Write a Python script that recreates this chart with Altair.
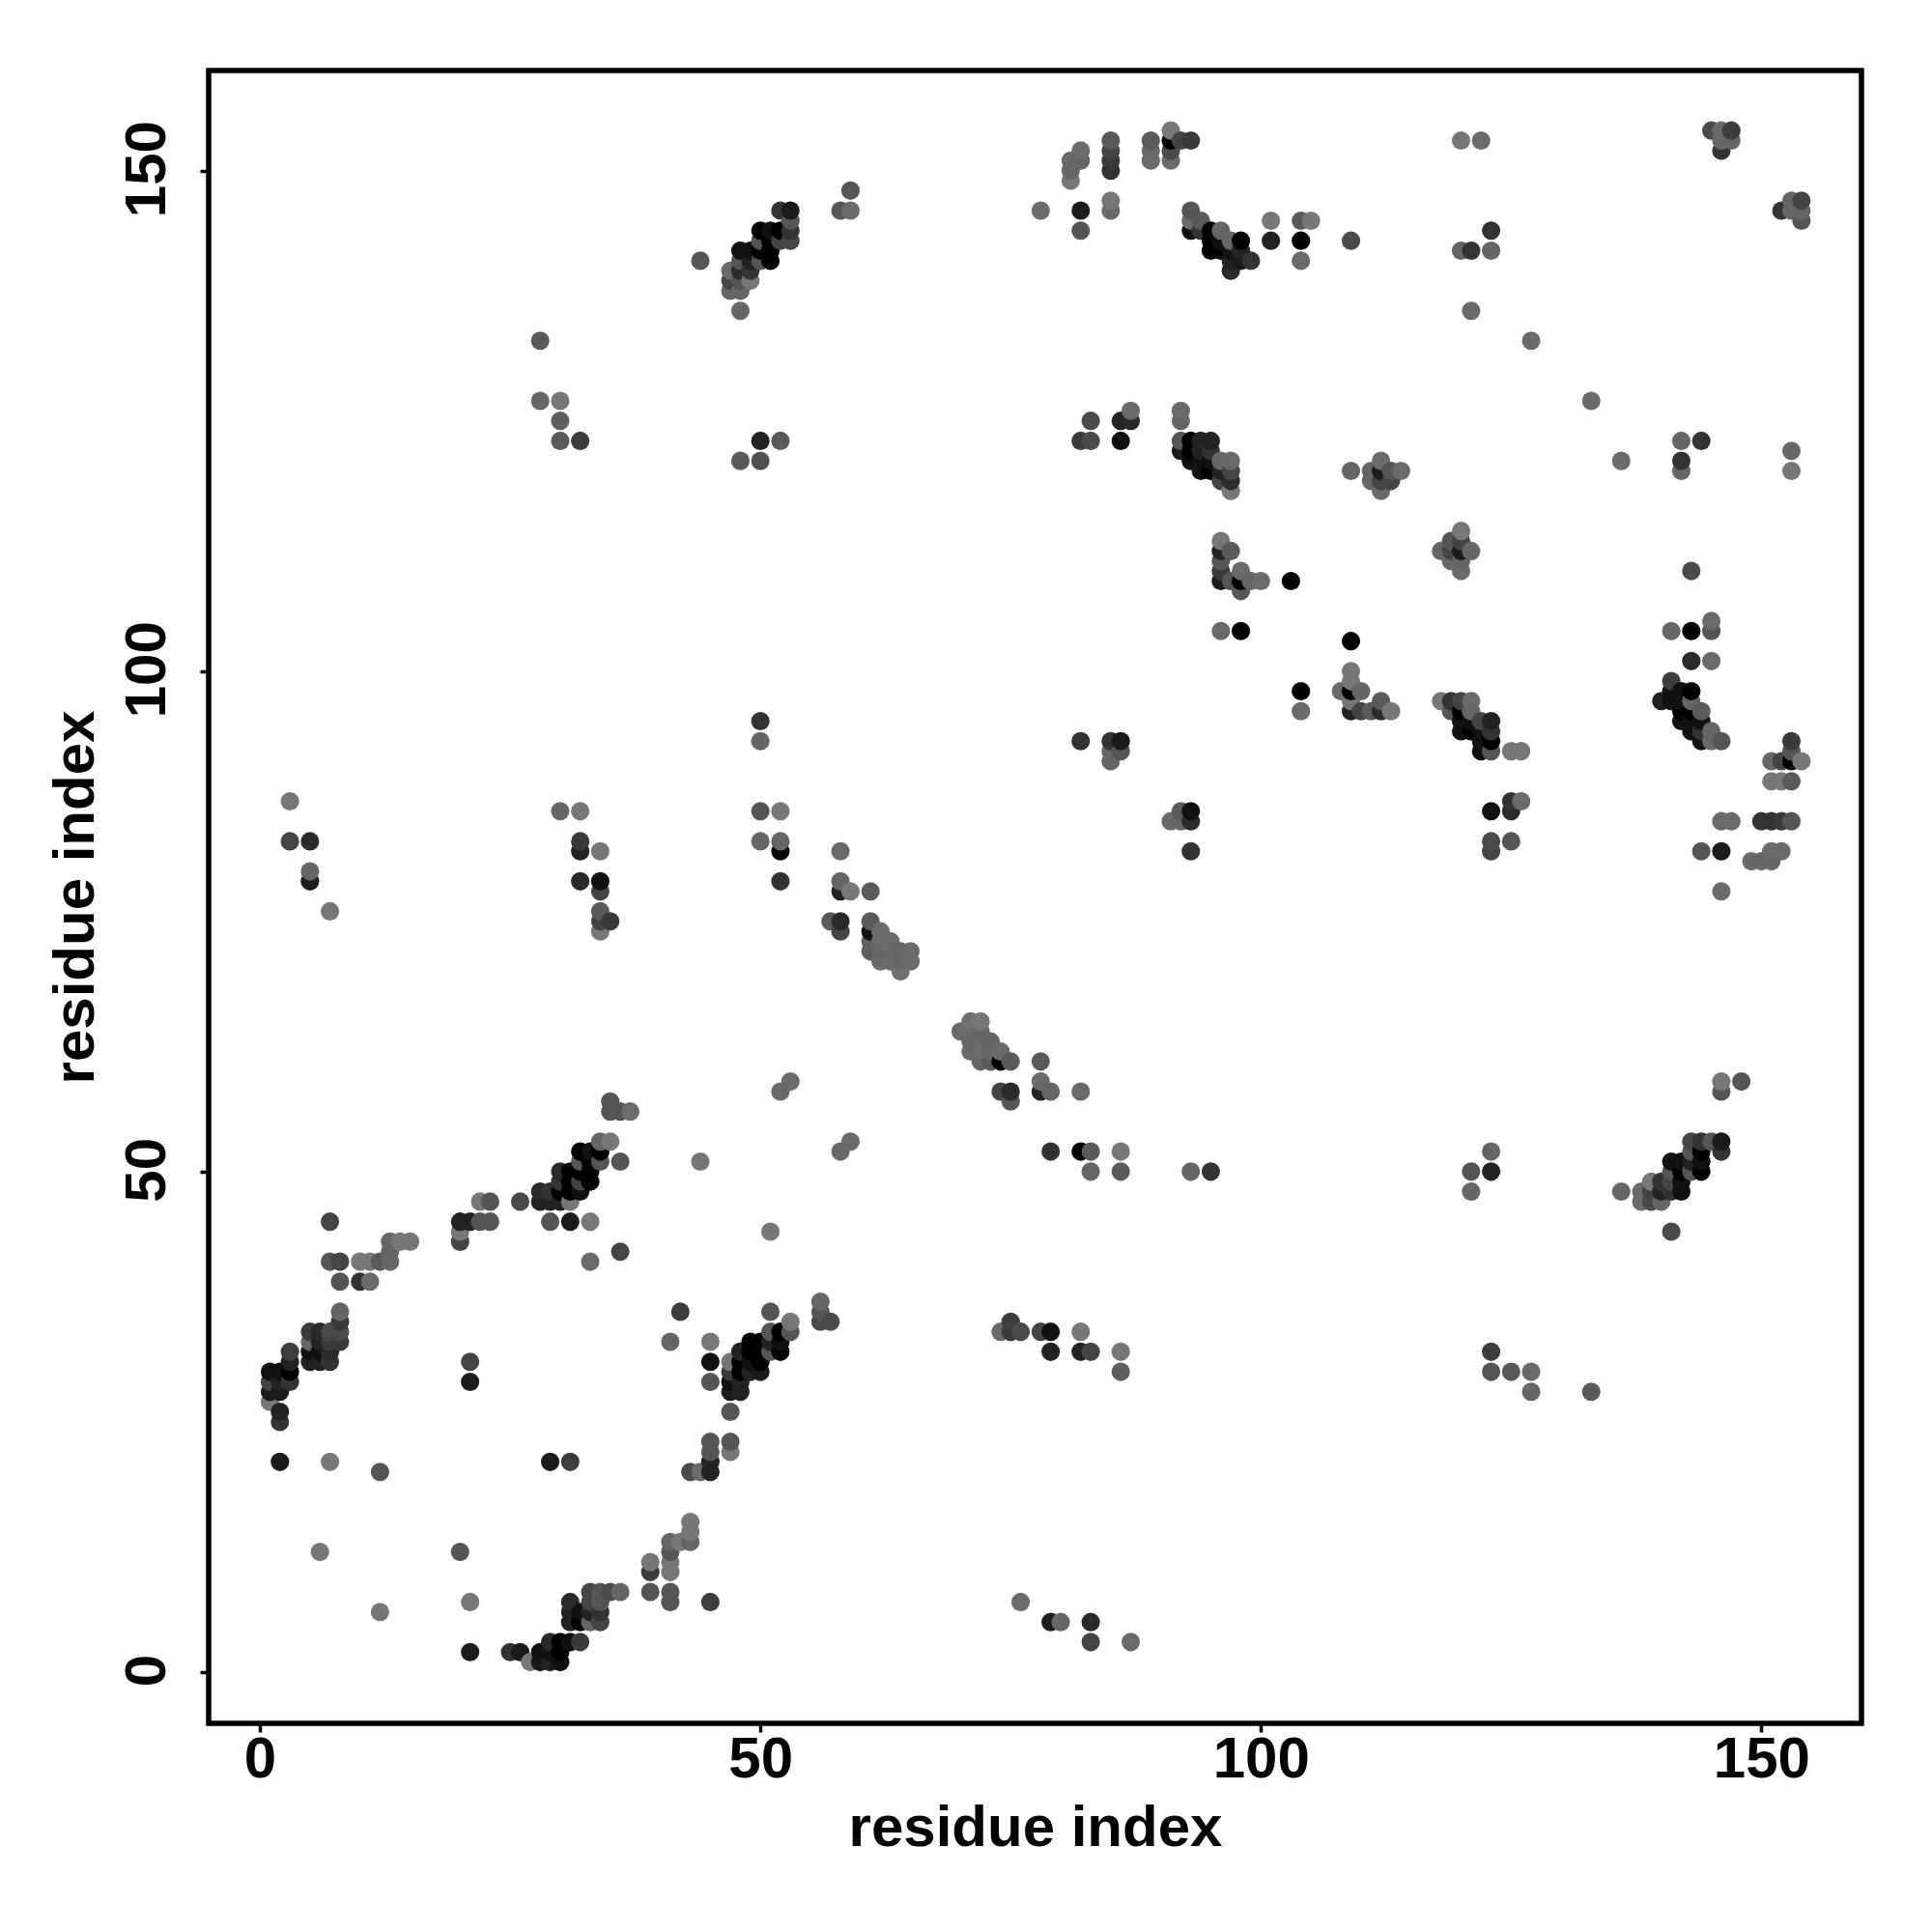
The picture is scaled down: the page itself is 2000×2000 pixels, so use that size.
import altair as alt
import pandas as pd

# (x residue, y residue, grey level 0-255)
low_left = [
 (27,1,0x77),(28,1,0x1a),(29,1,0x22),(30,1,0x11),
 (21,2,0x1c),(25,2,0x33),(26,2,0x1a),(28,2,0x11),(29,2,0x11),(30,2,0x00),
 (29,3,0x2a),(30,3,0x00),(31,3,0x11),(32,3,0x3a),
 (31,5,0x22),(32,5,0x00),(33,5,0x66),(34,5,0x44),
 (31,6,0x22),(32,6,0x11),(33,6,0x22),(34,6,0x33),(12,6,0x77),
 (21,7,0x77),(31,7,0x2a),(33,7,0x44),(34,7,0x55),(41,7,0x55),(45,7,0x3d),
 (33,8,0x44),(34,8,0x55),(35,8,0x4a),(36,8,0x66),(39,8,0x55),(41,8,0x55),
 (39,10,0x3a),(41,10,0x77),(39,11,0x77),(41,11,0x77),
 (41,12,0x55),(6,12,0x77),(20,12,0x55),
 (41,13,0x66),(42,13,0x77),(43,13,0x66),(43,14,0x77),(43,15,0x77),
 (43,20,0x4a),(44,20,0x6a),(45,20,0x22),(12,20,0x55),
 (2,21,0x1c),(7,21,0x77),(29,21,0x1a),(31,21,0x3d),(45,21,0x22),
 (45,22,0x55),(47,22,0x77),(45,23,0x55),(47,23,0x55),
 (2,25,0x33),(2,26,0x22),(47,26,0x55),(1,27,0x77),
 (1,28,0x1a),(2,28,0x1a),(47,28,0x1a),(48,28,0x22),
 (1,29,0x44),(2,29,0x22),(3,29,0x33),(21,29,0x1c),(45,29,0x55),(47,29,0x11),(48,29,0x22),
 (1,30,0x11),(2,30,0x11),(3,30,0x00),(47,30,0x3a),(48,30,0x00),(49,30,0x22),(50,30,0x1a),
 (3,31,0x22),(5,31,0x22),(6,31,0x22),(7,31,0x33),(21,31,0x44),(45,31,0x11),
 (47,31,0x77),(48,31,0x00),(49,31,0x11),(50,31,0x00),
 (3,32,0x3d),(5,32,0x11),(6,32,0x11),(7,32,0x2a),(48,32,0x22),(49,32,0x00),(50,32,0x00),(51,32,0x55),(52,32,0x00),
 (5,33,0x66),(6,33,0x22),(7,33,0x3a),(8,33,0x3a),(41,33,0x66),(45,33,0x77),(49,33,0x00),(50,33,0x00),(51,33,0x22),(52,33,0x11),
 (5,34,0x3a),(6,34,0x2a),(7,34,0x4a),(8,34,0x4a),(51,34,0x55),(52,34,0x00),(53,34,0x55),
 (74,34,0x6a),(75,34,0x3a),(76,34,0x4a),(78,34,0x44),(79,34,0x11),(82,34,0x77),
 (8,35,0x3a),(53,35,0x77),(56,35,0x4a),(57,35,0x4a),(75,35,0x3d),
 (8,36,0x66),(42,36,0x3d),(51,36,0x55),(56,36,0x55),(56,37,0x66),
 (8,39,0x55),(10,39,0x33),(11,39,0x6a),
 (7,41,0x55),(8,41,0x44),(10,41,0x77),(11,41,0x77),(12,41,0x5a),(13,41,0x66),(33,41,0x6a),
 (13,42,0x66),(36,42,0x44),(13,43,0x66),(14,43,0x77),(15,43,0x77),(20,43,0x44),(20,44,0x77),(51,44,0x77),
 (7,45,0x44),(20,45,0x22),(21,45,0x22),(22,45,0x55),(23,45,0x55),(29,45,0x55),(31,45,0x1a),(33,45,0x77),
 (22,47,0x77),(23,47,0x55),(26,47,0x4a),(28,47,0x22),(29,47,0x22),(30,47,0x22),(31,47,0x77),
]
middle_left = [
 (28,48,0x2a),(29,48,0x33),(30,48,0x00),(31,48,0x00),(32,48,0x11),
 (30,49,0x33),(31,49,0x00),(32,49,0x44),(33,49,0x00),
 (30,50,0x2a),(31,50,0x00),(32,50,0x00),(33,50,0x00),
 (32,51,0x55),(33,51,0x00),(34,51,0x55),(36,51,0x55),(44,51,0x77),
 (32,52,0x00),(33,52,0x11),(34,52,0x00),(34,53,0x66),(35,53,0x77),
 (35,56,0x55),(36,56,0x55),(37,56,0x6a),(35,57,0x55),
 (52,58,0x6a),(53,59,0x6a),(58,52,0x6a),(59,53,0x6a),
 (3,83,0x44),(5,83,0x2a),(3,87,0x77),(5,80,0x66),(5,79,0x1c),(7,76,0x77),
 (30,86,0x66),(32,86,0x77),(32,83,0x3a),(32,82,0x22),(34,82,0x77),(32,79,0x2a),(34,79,0x11),(34,78,0x44),
 (34,76,0x5a),(34,75,0x44),(35,75,0x3a),(34,74,0x77),
 (50,95,0x33),(50,93,0x66),(50,86,0x55),(50,83,0x66),(52,86,0x77),(52,83,0x66),(52,82,0x00),(52,79,0x33),
 (58,82,0x6a),(58,79,0x66),(58,78,0x22),(59,78,0x77),(61,78,0x5a),
 (57,75,0x5a),(58,75,0x2a),(58,74,0x44),
 (61,75,0x5a),(61,74,0x11),(62,74,0x6a),(61,73,0x5f),(62,73,0x6a),(63,73,0x6a),
 (61,72,0x5f),(62,72,0x66),(63,72,0x6a),(64,72,0x66),(65,72,0x6a),
 (62,71,0x6a),(63,71,0x6a),(64,71,0x66),(65,71,0x6a),(64,70,0x6f),
 (70,64,0x6a),(71,65,0x70),(72,65,0x77),(71,64,0x6a),(72,64,0x66),
 (71,63,0x66),(72,63,0x6a),(73,63,0x66),(71,62,0x6a),(72,62,0x6a),(73,62,0x66),(74,62,0x6a),
 (72,61,0x66),(73,61,0x5a),(74,61,0x00),(75,61,0x5a),(78,61,0x5a),
 (78,59,0x6a),(78,58,0x22),(79,58,0x66),(82,58,0x6a),(74,58,0x44),(75,58,0x2a),(75,57,0x55),
 (79,52,0x33),(82,52,0x00),(83,52,0x5a),(86,52,0x77),(83,50,0x66),(86,50,0x5a),(93,50,0x66),(95,50,0x33),
 (79,32,0x22),(82,32,0x22),(83,32,0x44),(86,32,0x77),(86,30,0x5f),
 (76,7,0x6a),(79,5,0x1c),(80,5,0x66),(83,5,0x2a),(83,3,0x44),(87,3,0x6a),
 (82,93,0x33),(85,93,0x33),(86,93,0x1a),(85,92,0x66),(86,92,0x55),(85,91,0x66),
 (93,86,0x11),(92,86,0x5a),(91,85,0x6a),(92,85,0x66),(93,85,0x2a),(93,82,0x33),
]
top_left = [
 (28,133,0x5a),(28,127,0x66),(30,127,0x77),(30,125,0x5f),(30,123,0x5a),(32,123,0x3d),
 (50,123,0x22),(52,123,0x5a),(48,121,0x5a),(50,121,0x50),(44,141,0x55),(48,136,0x66),
 (47,138,0x66),(48,138,0x66),(47,139,0x44),(48,139,0x55),(49,139,0x77),
 (47,140,0x6a),(48,140,0x2a),(49,140,0x33),(48,141,0x55),(49,141,0x22),(50,141,0x55),(51,141,0x00),
 (48,142,0x11),(49,142,0x11),(50,142,0x00),(51,142,0x00),(50,143,0x55),(51,143,0x00),(52,143,0x44),(53,143,0x44),
 (50,144,0x00),(51,144,0x11),(52,144,0x00),(53,144,0x33),(53,145,0x55),(52,146,0x33),(53,146,0x1a),
 (58,146,0x55),(59,146,0x6a),(59,148,0x55),(78,146,0x6a),
]
top_middle = [
 (82,146,0x1c),(82,144,0x55),(85,147,0x77),(85,146,0x6a),
 (85,153,0x5a),(85,152,0x44),(85,151,0x3a),(85,150,0x33),
 (81,149,0x77),(81,150,0x66),(81,151,0x6a),(82,151,0x66),(82,152,0x6a),
 (89,153,0x5a),(89,152,0x6a),(89,151,0x6a),(91,154,0x77),(91,153,0x00),(91,152,0x4a),(91,151,0x6a),(92,153,0x44),(93,153,0x3a),
 (120,153,0x77),(122,153,0x6a),
 (93,146,0x55),(93,145,0x6a),(94,145,0x5a),(93,144,0x11),(94,144,0x33),(95,144,0x00),(96,144,0x66),
 (95,143,0x00),(96,143,0x11),(97,143,0x66),(98,143,0x00),(95,142,0x00),(96,142,0x00),(97,142,0x11),(98,142,0x22),
 (97,141,0x22),(98,141,0x1a),(99,141,0x33),(97,140,0x2a),
 (101,145,0x77),(104,145,0x5a),(105,145,0x77),(101,143,0x22),(104,143,0x00),(104,141,0x6a),(109,143,0x4a),
 (123,144,0x33),(120,142,0x66),(121,142,0x33),(123,142,0x66),(121,136,0x6a),(127,133,0x6a),
 (83,125,0x4a),(86,125,0x22),(87,125,0x2a),(87,126,0x6a),(92,126,0x6a),(92,125,0x66),
 (82,123,0x3a),(83,123,0x4a),(86,123,0x11),(92,123,0x55),(93,123,0x00),(94,123,0x22),(95,123,0x22),
 (92,122,0x1a),(93,122,0x00),(94,122,0x22),(95,122,0x33),
 (93,121,0x11),(94,121,0x11),(95,121,0x11),(96,121,0x66),(97,121,0x6a),
 (94,120,0x11),(95,120,0x00),(96,120,0x22),(97,120,0x44),(96,119,0x44),(97,119,0x2a),(97,118,0x77),
 (109,120,0x66),(112,121,0x6a),(111,120,0x66),(112,120,0x1a),(113,120,0x55),(114,120,0x6a),
 (111,119,0x66),(112,119,0x44),(113,119,0x44),(112,118,0x6a),
 (120,114,0x77),(119,113,0x55),(120,113,0x44),(118,112,0x66),(119,112,0x44),(120,112,0x1a),(121,112,0x66),
 (119,111,0x66),(120,111,0x66),(120,110,0x6a),
 (96,113,0x77),(97,112,0x5a),(96,112,0x22),(96,111,0x55),(96,110,0x3a),(96,109,0x1c),(97,109,0x55),
 (98,110,0x6a),(98,109,0x00),(99,109,0x66),(100,109,0x6a),(98,108,0x55),(103,109,0x00),
 (96,104,0x6a),(98,104,0x00),(109,103,0x00),
]
top_right = [
 (146,152,0x33),(145,154,0x4a),(146,154,0x6a),(147,154,0x3d),(146,153,0x66),(147,153,0x66),
 (152,146,0x33),(153,147,0x66),(154,147,0x44),(153,146,0x66),(154,146,0x66),(154,145,0x55),
 (133,127,0x6a),(136,121,0x6a),(142,123,0x66),(144,123,0x33),(142,121,0x33),(142,120,0x66),
 (153,122,0x66),(153,120,0x77),(143,110,0x4a),
 (141,104,0x66),(143,104,0x00),(145,104,0x55),(145,105,0x6a),(143,101,0x2a),(145,101,0x6a),
]
middle_right = [
 (104,98,0x00),(104,96,0x6a),(109,100,0x77),(109,99,0x77),(108,98,0x6a),(109,98,0x00),(110,98,0x66),
 (109,97,0x77),(109,96,0x22),(110,96,0x44),(111,96,0x5a),(112,97,0x5a),(112,96,0x2a),(113,96,0x77),
 (118,97,0x77),(119,97,0x33),(120,97,0x44),(121,97,0x6a),(119,96,0x55),(120,96,0x00),(121,96,0x66),
 (120,95,0x11),(121,95,0x11),(122,95,0x44),(123,95,0x22),(120,94,0x11),(121,94,0x00),(122,94,0x11),(123,94,0x33),
 (122,93,0x11),(123,93,0x00),(122,92,0x11),(123,92,0x55),(125,92,0x77),(126,92,0x77),
 (123,86,0x11),(125,87,0x33),(125,86,0x2a),(126,87,0x6a),(123,83,0x4a),(123,82,0x44),(125,83,0x55),
 (141,99,0x3d),(140,97,0x22),(141,98,0x11),(142,98,0x11),(143,98,0x00),(141,97,0x11),(142,97,0x11),(143,97,0x66),
 (142,96,0x00),(143,96,0x00),(144,96,0x5a),(142,95,0x11),(143,95,0x11),(144,95,0x11),(143,94,0x11),(144,94,0x33),
 (144,93,0x11),(145,94,0x66),(145,93,0x6a),(146,93,0x55),
 (153,93,0x3a),(153,92,0x55),(151,91,0x66),(152,91,0x44),(153,91,0x00),(154,91,0x77),
 (151,89,0x77),(152,89,0x77),(153,89,0x5a),
 (146,85,0x6a),(147,85,0x6a),(150,85,0x33),(151,85,0x33),(152,85,0x3a),(153,85,0x55),
 (144,82,0x55),(146,82,0x1c),(149,81,0x6a),(150,81,0x66),(151,81,0x66),(151,82,0x6a),(152,82,0x6a),(146,78,0x6a),
]
low_right = [
 (146,59,0x77),(146,58,0x55),(148,59,0x55),(123,52,0x66),(121,50,0x55),(123,50,0x22),(121,48,0x66),
 (143,53,0x44),(144,53,0x33),(145,53,0x55),(146,53,0x1a),(143,52,0x55),(144,52,0x00),(146,52,0x33),
 (141,51,0x11),(142,51,0x11),(143,51,0x22),(144,51,0x11),(141,50,0x55),(142,50,0x00),(143,50,0x55),(144,50,0x00),
 (139,49,0x77),(140,49,0x33),(141,49,0x44),(142,49,0x11),
 (136,48,0x66),(138,48,0x6a),(139,48,0x44),(140,48,0x22),(141,48,0x33),(142,48,0x11),
 (138,47,0x6a),(139,47,0x4a),(140,47,0x66),(141,44,0x4a),
 (123,32,0x3d),(123,30,0x55),(125,30,0x5a),(127,30,0x6a),(127,28,0x66),(133,28,0x5a),
]

x_ticks = [0, 50, 100, 150]
axis_title = "residue index"

rows = low_left + middle_left + top_left + top_middle + top_right + middle_right + low_right
df = pd.DataFrame(rows, columns=["x", "y", "g"]).drop_duplicates(["x", "y"]).sort_values(["x", "y"])
df["c"] = df["g"].map(lambda g: f"#{g:02x}{g:02x}{g:02x}")

FONT = "Liberation Sans"
dom = [-5.12, 160]


def make_axis(angle, **kw):
    return alt.Axis(
        values=x_ticks, title=axis_title, grid=False, domain=False, ticks=True,
        tickSize=9, tickWidth=3.5, tickColor="black", labelFont=FONT, labelFontSize=60,
        labelFontWeight="bold", labelColor="black", titleFont=FONT, titleFontSize=60,
        titleFontWeight="bold", titleColor="black", labelAngle=angle, labelOverlap=False, **kw,
    )


chart = (
    alt.Chart(df)
    .mark_circle(size=365, opacity=1)
    .encode(
        x=alt.X("x:Q", scale=alt.Scale(domain=dom, nice=False, zero=False),
                axis=make_axis(0, labelPadding=-1, titlePadding=12)),
        y=alt.Y("y:Q", scale=alt.Scale(domain=dom, nice=False, zero=False),
                axis=make_axis(270, labelPadding=24, titlePadding=13, labelAlign="center",
                               labelBaseline="bottom", labelOffset=-2)),
        color=alt.Color("c:N", scale=None),
    )
    .properties(
        width=1711, height=1711, autosize="none", background="white",
        padding={"left": 208, "top": 65, "right": 60, "bottom": 200},
    )
    .configure_view(stroke="black", strokeWidth=5.5, fill="white")
)

chart.save("out.html", embed_options={"renderer": "svg", "actions": False})
